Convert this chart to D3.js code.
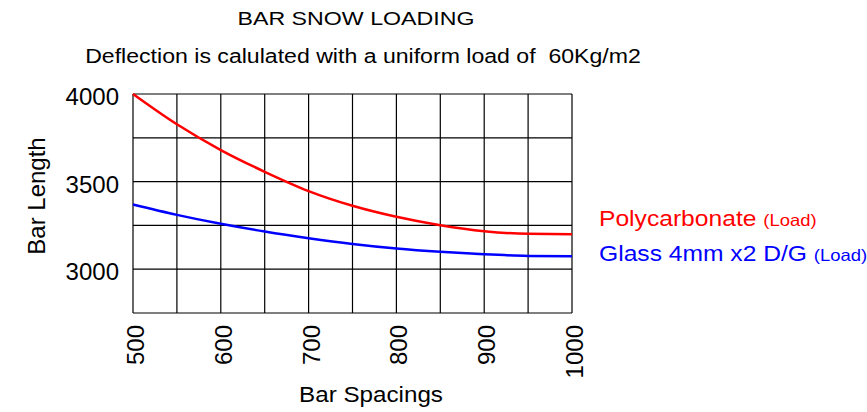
<!DOCTYPE html>
<html><head><meta charset="utf-8">
<script src="https://cdn.jsdelivr.net/npm/d3@7"></script>
<style>body{margin:0;background:#fff}svg{display:block}text{font-family:"Liberation Sans",Arial,sans-serif}</style>
</head><body><svg id="c" width="867" height="412"></svg>
<script>
const spacings = [500,550,600,650,700,750,800,850,900,950,1000];
const polycarbonate = [4000,3827,3680,3556,3446,3362,3299,3251,3217,3202,3200];
const glass = [3369,3310,3259,3215,3177,3144,3118,3099,3085,3076,3074];
const xTicks = [500,600,700,800,900,1000];
const yTicks = [3000,3500,4000];
const xGrid = d3.range(500,1001,50);
const yGrid = d3.range(2750,4001,250);

const svg = d3.select("#c");
const L=133,R=572,T=94,B=313;
const x = d3.scaleLinear().domain([500,1000]).range([L,R]);
const y = d3.scaleLinear().domain([2750,4000]).range([B,T]);

svg.append("text").attr("transform","translate(356,25) scale(1.22,1)").attr("text-anchor","middle").attr("font-size",19).text("BAR SNOW LOADING");
svg.append("text").attr("transform","translate(363,63) scale(1.10,1)").attr("text-anchor","middle").attr("font-size",21).attr("xml:space","preserve").text("Deflection is calulated with a uniform load of  60Kg/m2");

const g = svg.append("g");
g.selectAll(".vg").data(xGrid).join("line").attr("x1",d=>x(d)).attr("x2",d=>x(d)).attr("y1",T).attr("y2",B).attr("stroke","#000").attr("stroke-width",1.2);
g.selectAll(".hg").data(yGrid).join("line").attr("y1",d=>y(d)).attr("y2",d=>y(d)).attr("x1",L).attr("x2",R).attr("stroke","#000").attr("stroke-width",1.2);

const xAxis = svg.append("g").attr("transform",`translate(0,${B})`).call(d3.axisBottom(x).tickValues(xTicks).tickSize(0).tickFormat(d3.format("d")));
xAxis.select(".domain").remove();
xAxis.selectAll("text").attr("font-size",24).attr("fill","#000").attr("transform","rotate(-90)").attr("text-anchor","end").attr("x",-12).attr("y",2).attr("dy","0.35em");

const yAxis = svg.append("g").attr("transform",`translate(${L},0)`).call(d3.axisLeft(y).tickValues(yTicks).tickSize(0).tickFormat(d3.format("d")));
yAxis.select(".domain").remove();
yAxis.selectAll("text").attr("font-size",24).attr("fill","#000").attr("x",-14).attr("y",2).attr("dy","0.35em");

const line = d3.line().x((d,i)=>x(spacings[i])).y(d=>y(d)).curve(d3.curveMonotoneX);
svg.append("path").attr("d",line(glass)).attr("fill","none").attr("stroke","#0000ff").attr("stroke-width",2.5);
svg.append("path").attr("d",line(polycarbonate)).attr("fill","none").attr("stroke","#ff0000").attr("stroke-width",2.5);

svg.append("text").attr("transform",`translate(45,196) rotate(-90)`).attr("text-anchor","middle").attr("font-size",24).text("Bar Length");
svg.append("text").attr("transform","translate(371,402) scale(1.1,1)").attr("text-anchor","middle").attr("font-size",22).text("Bar Spacings");

const t1 = svg.append("text").attr("transform","translate(599,226) scale(1.12,1)").attr("fill","#ff0000").attr("font-size",22);
t1.append("tspan").text("Polycarbonate ");
t1.append("tspan").attr("font-size",16.5).text("(Load)");
const t2 = svg.append("text").attr("transform","translate(599,261) scale(1.12,1)").attr("fill","#0000ff").attr("font-size",22);
t2.append("tspan").text("Glass 4mm x2 D/G ");
t2.append("tspan").attr("font-size",16.5).text("(Load)");
</script></body></html>
